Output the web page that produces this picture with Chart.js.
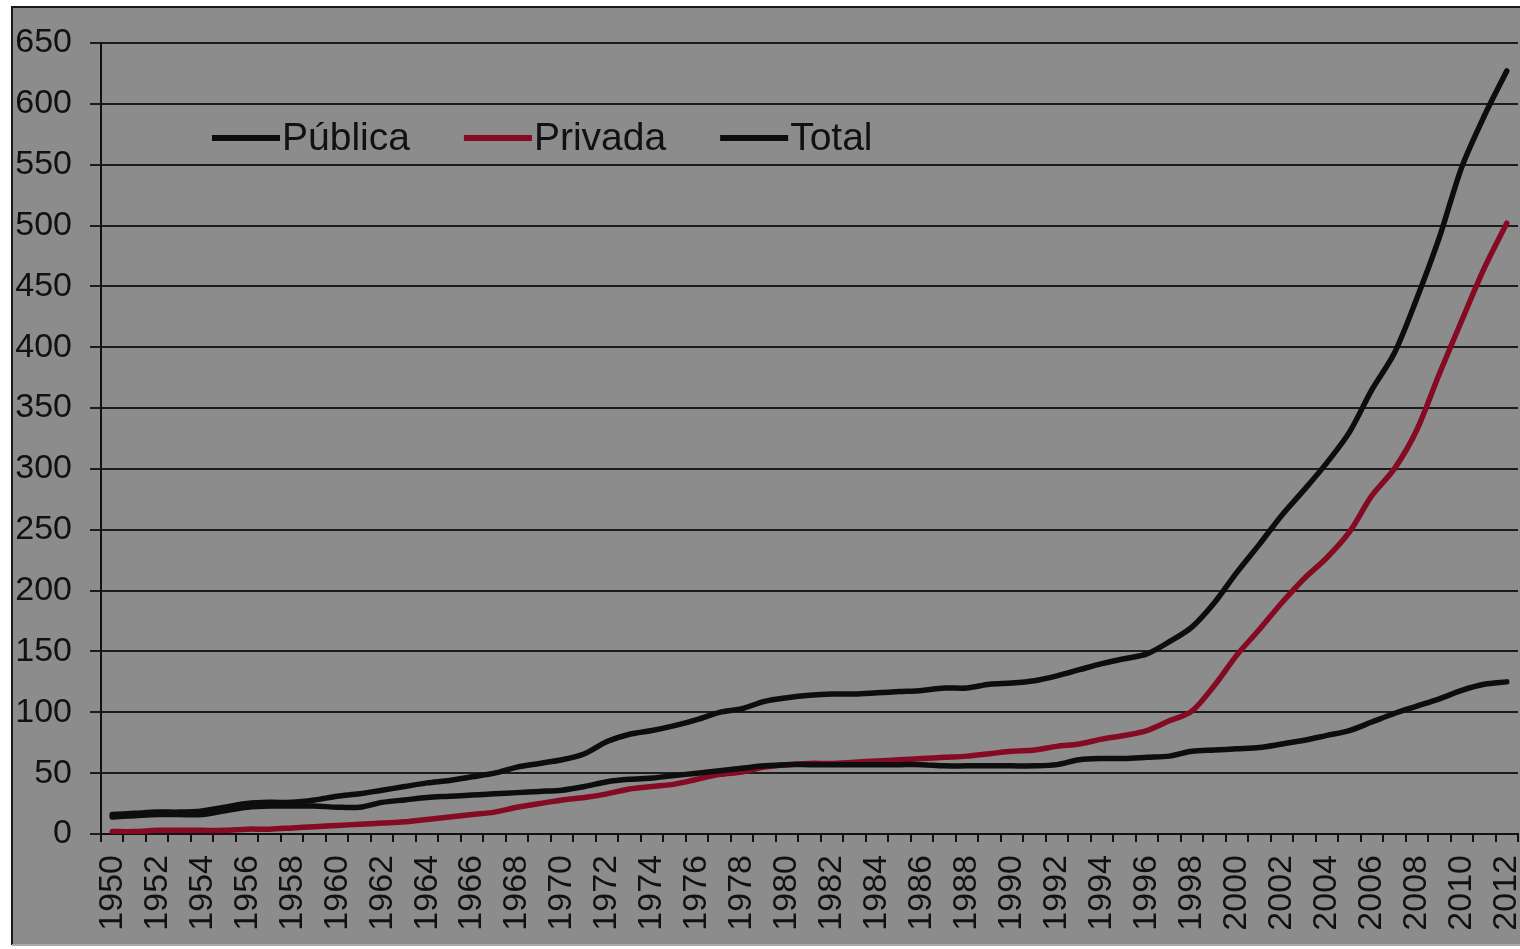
<!DOCTYPE html>
<html>
<head>
<meta charset="utf-8">
<style>
  html, body { margin: 0; padding: 0; background: #ffffff; }
  #wrap { width: 1520px; height: 949px; position: relative; }
</style>
<script src="https://cdn.jsdelivr.net/npm/chart.js@4.4.1/dist/chart.umd.min.js"></script>
</head>
<body>
<div id="wrap"><canvas id="c" width="1520" height="949"></canvas></div>
<script>
// Years on the category axis
const years = [
  1950, 1951, 1952, 1953, 1954, 1955, 1956, 1957, 1958, 1959,
  1960, 1961, 1962, 1963, 1964, 1965, 1966, 1967, 1968, 1969,
  1970, 1971, 1972, 1973, 1974, 1975, 1976, 1977, 1978, 1979,
  1980, 1981, 1982, 1983, 1984, 1985, 1986, 1987, 1988, 1989,
  1990, 1991, 1992, 1993, 1994, 1995, 1996, 1997, 1998, 1999,
  2000, 2001, 2002, 2003, 2004, 2005, 2006, 2007, 2008, 2009,
  2010, 2011, 2012
];

const publica = [
  14, 15, 16, 16, 16, 19, 22, 23, 23, 23,
  22, 22, 26, 28, 30, 31, 32, 33, 34, 35,
  36, 39, 43, 45, 46, 48, 50, 52, 54, 56,
  57, 57, 57, 57, 57, 57, 57, 56, 56, 56,
  56, 56, 57, 61, 62, 62, 63, 64, 68, 69,
  70, 71, 74, 77, 81, 85, 92, 99, 105, 111,
  118, 123, 125
];

const privada = [
  2, 2, 3, 3, 3, 3, 4, 4, 5, 6,
  7, 8, 9, 10, 12, 14, 16, 18, 22, 25,
  28, 30, 33, 37, 39, 41, 45, 49, 51, 55,
  57, 58, 58, 59, 60, 61, 62, 63, 64, 66,
  68, 69, 72, 74, 78, 81, 85, 93, 101, 122,
  147, 168, 190, 210, 227, 248, 278, 300, 332, 378,
  422, 465, 502
];

const total = [
  16, 17, 18, 18, 19, 22, 25, 26, 26, 28,
  31, 33, 36, 39, 42, 44, 47, 50, 55, 58,
  61, 66, 76, 82, 85, 89, 94, 100, 103, 109,
  112, 114, 115, 115, 116, 117, 118, 120, 120, 123,
  124, 126, 130, 135, 140, 144, 148, 158, 170, 190,
  215, 238, 262, 283, 305, 330, 365, 395, 440, 490,
  548, 590, 627
];

const yTicks = [0, 50, 100, 150, 200, 250, 300, 350, 400, 450, 500, 550, 600, 650];

const FONT = '"Liberation Sans", Arial, sans-serif';
const INK = '#111111';
const RED = '#850a24';

// Grey panel with a dark frame behind the whole chart
const framePlugin = {
  id: 'frame',
  beforeDraw(chart) {
    const ctx = chart.ctx;
    ctx.save();
    ctx.fillStyle = '#ffffff';
    ctx.fillRect(0, 0, chart.width, chart.height);
    ctx.fillStyle = '#8c8c8c';
    ctx.fillRect(12, 7, chart.width - 12, 937);
    ctx.strokeStyle = '#1a1a1a';
    ctx.lineWidth = 2;
    ctx.beginPath();
    ctx.moveTo(12, 945);
    ctx.lineTo(12, 7);
    ctx.lineTo(chart.width, 7);
    ctx.stroke();
    ctx.strokeStyle = '#a9a9a9';
    ctx.beginPath();
    ctx.moveTo(12, 945);
    ctx.lineTo(chart.width, 945);
    ctx.stroke();
    ctx.restore();
  }
};

// Horizontal legend placed inside the plot area
const insideLegend = {
  id: 'insideLegend',
  afterDatasetsDraw(chart) {
    const ctx = chart.ctx;
    ctx.save();
    ctx.font = '39px ' + FONT;
    ctx.textBaseline = 'middle';
    ctx.textAlign = 'left';
    let x = 212;
    const y = 138;
    chart.data.datasets.forEach(ds => {
      ctx.strokeStyle = ds.borderColor;
      ctx.lineWidth = 6;
      ctx.lineCap = 'butt';
      ctx.beginPath();
      ctx.moveTo(x, y);
      ctx.lineTo(x + 68, y);
      ctx.stroke();
      ctx.fillStyle = INK;
      ctx.fillText(ds.label, x + 70, y + 1);
      x += 70 + ctx.measureText(ds.label).width + 54;
    });
    ctx.restore();
  }
};

new Chart(document.getElementById('c'), {
  type: 'line',
  data: {
    labels: years,
    datasets: [
      { label: 'Pública', data: publica, borderColor: '#0d0d0d' },
      { label: 'Privada', data: privada, borderColor: RED },
      { label: 'Total', data: total, borderColor: '#0d0d0d' }
    ].map(d => Object.assign(d, {
      borderWidth: 5.5,
      pointRadius: 0,
      pointHoverRadius: 0,
      tension: 0.3,
      fill: false,
      borderCapStyle: 'round',
      borderJoinStyle: 'round'
    }))
  },
  options: {
    responsive: false,
    animation: false,
    events: [],
    layout: { padding: { top: 43, right: 2, left: 0, bottom: 0 } },
    plugins: {
      legend: { display: false },
      title: { display: false },
      tooltip: { enabled: false }
    },
    scales: {
      x: {
        type: 'category',
        offset: true,
        afterFit(scale) {
          scale.height = 115;
          scale.paddingLeft = 0;
          scale.paddingRight = 0;
        },
        grid: {
          offset: true,
          drawOnChartArea: false,
          drawTicks: true,
          tickLength: 8,
          color: '#111111',
          lineWidth: 2
        },
        border: { display: true, color: '#111111', width: 2 },
        ticks: {
          autoSkip: false,
          minRotation: 90,
          maxRotation: 90,
          padding: 13,
          color: INK,
          font: { family: FONT, size: 34 },
          callback(value, index) {
            const yr = years[index];
            return yr % 2 === 0 ? String(yr) : '';
          }
        }
      },
      y: {
        min: 0,
        max: 650,
        afterFit(scale) {
          scale.width = 101;
          scale.paddingTop = 0;
          scale.paddingBottom = 0;
        },
        afterBuildTicks(scale) { scale.ticks = yTicks.map(v => ({ value: v })); },
        grid: {
          drawTicks: true,
          tickLength: 11,
          color: '#1c1c1c',
          lineWidth: 2
        },
        border: { display: true, color: '#111111', width: 2 },
        ticks: {
          padding: 18,
          color: INK,
          font: { family: FONT, size: 34 }
        }
      }
    }
  },
  plugins: [framePlugin, insideLegend]
});
</script>
</body>
</html>
